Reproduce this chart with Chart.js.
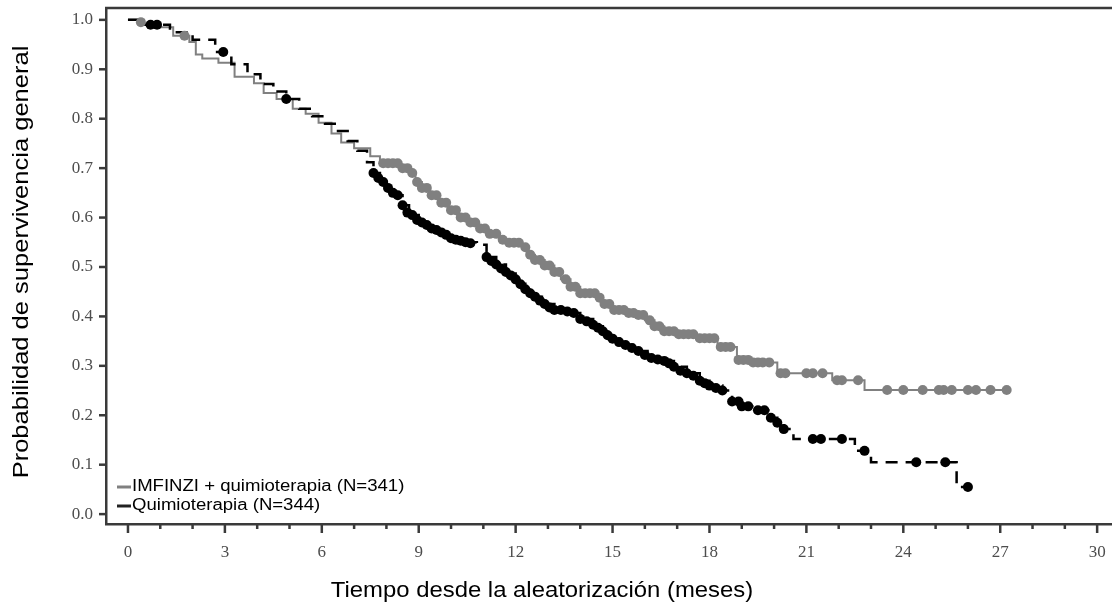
<!DOCTYPE html>
<html lang="es">
<head>
  <meta charset="UTF-8" />
  <title>Supervivencia general</title>
  <script src="https://cdn.jsdelivr.net/npm/chart.js"></script>
  <style>
    body { margin: 0; background: #fff; }
  </style>
</head>
<body>
  <canvas id="kmChart" width="1112" height="605"></canvas>

  <script>
    // tick labels
    const xTicks = [0, 3, 6, 9, 12, 15, 18, 21, 24, 27, 30];
    const yTicks = [0, 0.1, 0.2, 0.3, 0.4, 0.5, 0.6, 0.7, 0.8, 0.9, 1.0];

    const legendLabels = ['IMFINZI + quimioterapia (N=341)', 'Quimioterapia (N=344)'];
    const xTitle = 'Tiempo desde la aleatorización (meses)';
    const yTitle = 'Probabilidad de supervivencia general';

    // IMFINZI + quimioterapia: KM steps (months, survival)
    const imfTime = [0, 0.5, 1.0, 1.4, 1.9, 2.1, 2.3, 2.8, 3.3, 3.9, 4.2, 4.6, 5.1, 5.5, 5.9, 6.3, 6.6, 7.0, 7.5, 7.8,
      8.4, 8.7, 8.9, 9.1, 9.35, 9.6, 9.9, 10.2, 10.5, 10.8, 11.1, 11.5, 11.8, 12.2, 12.4, 12.6, 12.9, 13.2, 13.4, 13.7,
      14.0, 14.5, 14.7, 15.0, 15.4, 15.8, 16.0, 16.3, 16.6, 17.0, 17.6, 18.25, 18.85, 19.3, 20.1, 21.8, 22.8, 27.2];
    const imfSurv = [1.0, 0.99, 0.985, 0.968, 0.955, 0.93, 0.922, 0.913, 0.885, 0.872, 0.852, 0.84, 0.82, 0.81, 0.792, 0.77, 0.752, 0.74, 0.724, 0.71,
      0.70, 0.69, 0.672, 0.66, 0.645, 0.63, 0.615, 0.60, 0.59, 0.578, 0.567, 0.555, 0.549, 0.54, 0.525, 0.514, 0.503, 0.49, 0.475, 0.46,
      0.447, 0.438, 0.425, 0.413, 0.407, 0.403, 0.392, 0.38, 0.37, 0.364, 0.356, 0.338, 0.312, 0.307, 0.285, 0.271, 0.251, 0.251];

    // IMFINZI + quimioterapia: censored marks
    const imfCensTime = [0.4, 1.75, 7.9, 8.05, 8.2, 8.35, 8.5, 8.65, 8.8, 8.95, 9.1, 9.25, 9.4, 9.55, 9.7, 9.85, 10.0, 10.15, 10.3, 10.45,
      10.6, 10.75, 10.9, 11.05, 11.2, 11.4, 11.6, 11.8, 11.95, 12.1, 12.3, 12.45, 12.6, 12.75, 12.9, 13.05, 13.2, 13.35, 13.55, 13.7,
      13.85, 14.0, 14.15, 14.3, 14.45, 14.6, 14.75, 14.9, 15.05, 15.2, 15.35, 15.5, 15.65, 15.8, 15.95, 16.15, 16.3, 16.45, 16.6, 16.75,
      16.9, 17.05, 17.2, 17.35, 17.5, 17.7, 17.85, 18.0, 18.15, 18.35, 18.5, 18.65, 18.9, 19.05, 19.2, 19.35, 19.5, 19.65, 19.85, 20.2,
      20.35, 21.0, 21.2, 21.5, 21.95, 22.1, 22.6, 23.5, 24.0, 24.6, 25.1, 25.25, 25.5, 26.0, 26.25, 26.7, 27.2];
    const imfCensSurv = [0.995, 0.968, 0.71, 0.71, 0.71, 0.71, 0.70, 0.70, 0.69, 0.672, 0.66, 0.66, 0.645, 0.645, 0.63, 0.63, 0.615, 0.615, 0.60, 0.60,
      0.59, 0.59, 0.578, 0.578, 0.567, 0.567, 0.555, 0.549, 0.549, 0.549, 0.54, 0.525, 0.514, 0.514, 0.503, 0.503, 0.49, 0.49, 0.475, 0.46,
      0.46, 0.447, 0.447, 0.447, 0.447, 0.438, 0.425, 0.425, 0.413, 0.413, 0.413, 0.407, 0.407, 0.403, 0.403, 0.392, 0.38, 0.38, 0.37, 0.37,
      0.37, 0.364, 0.364, 0.364, 0.364, 0.356, 0.356, 0.356, 0.356, 0.338, 0.338, 0.338, 0.312, 0.312, 0.312, 0.307, 0.307, 0.307, 0.307, 0.285,
      0.285, 0.285, 0.285, 0.285, 0.271, 0.271, 0.271, 0.251, 0.251, 0.251, 0.251, 0.251, 0.251, 0.251, 0.251, 0.251, 0.251];

    // Quimioterapia: KM steps
    const chemoTime = [0, 0.4, 1.3, 2.0, 2.7, 3.2, 3.7, 4.1, 4.5, 4.9, 5.3, 5.7, 6.1, 6.4, 6.8, 7.1, 7.4, 7.6, 7.8, 8.0,
      8.3, 8.5, 8.7, 9.0, 9.3, 9.6, 10.0, 10.4, 10.8, 11.1, 11.4, 11.7, 12.0, 12.3, 12.6, 12.9, 13.2, 13.7, 14.0, 14.4,
      14.7, 15.0, 15.4, 15.8, 16.2, 16.6, 16.9, 17.3, 17.7, 18.0, 18.4, 18.7, 19.0, 19.5, 19.9, 20.1, 20.3, 20.6, 22.5, 23.0,
      25.65, 26.0];
    const chemoSurv = [1.0, 0.99, 0.975, 0.96, 0.935, 0.91, 0.89, 0.87, 0.855, 0.84, 0.82, 0.805, 0.79, 0.775, 0.755, 0.735, 0.712, 0.69, 0.672, 0.66,
      0.645, 0.625, 0.605, 0.59, 0.578, 0.57, 0.558, 0.55, 0.545, 0.52, 0.505, 0.49, 0.475, 0.455, 0.44, 0.425, 0.413, 0.407, 0.395, 0.383,
      0.37, 0.355, 0.342, 0.33, 0.316, 0.31, 0.298, 0.285, 0.27, 0.26, 0.25, 0.228, 0.218, 0.21, 0.195, 0.185, 0.172, 0.152, 0.128, 0.105,
      0.055, 0.055];

    // Quimioterapia: censored marks
    const chemoCensTime = [0.7, 0.9, 2.95, 4.9, 7.6, 7.75, 7.9, 8.05, 8.2, 8.35, 8.5, 8.65, 8.8, 8.95, 9.1, 9.25, 9.4, 9.55, 9.7, 9.85,
      10.0, 10.15, 10.3, 10.45, 10.6, 11.1, 11.25, 11.4, 11.55, 11.7, 11.85, 12.0, 12.15, 12.3, 12.45, 12.6, 12.75, 12.9, 13.05, 13.2,
      13.4, 13.6, 13.8, 14.0, 14.2, 14.4, 14.55, 14.7, 14.85, 15.0, 15.2, 15.4, 15.6, 15.8, 16.0, 16.2, 16.4, 16.6, 16.75, 16.9,
      17.1, 17.3, 17.5, 17.7, 17.85, 18.0, 18.2, 18.4, 18.7, 18.9, 19.0, 19.2, 19.5, 19.7, 19.9, 20.1, 20.3,
      21.2, 21.45, 22.1, 22.8, 24.4, 25.3, 26.0];
    const chemoCensSurv = [0.99, 0.99, 0.935, 0.84, 0.69, 0.68, 0.672, 0.66, 0.65, 0.645, 0.625, 0.61, 0.605, 0.595, 0.59, 0.585, 0.578, 0.575, 0.57, 0.565,
      0.558, 0.555, 0.553, 0.55, 0.548, 0.52, 0.512, 0.505, 0.497, 0.49, 0.483, 0.475, 0.465, 0.455, 0.447, 0.44, 0.432, 0.425, 0.418, 0.413,
      0.413, 0.41, 0.407, 0.395, 0.39, 0.383, 0.377, 0.37, 0.362, 0.355, 0.348, 0.342, 0.336, 0.33, 0.322, 0.316, 0.313, 0.31, 0.305, 0.298,
      0.29, 0.285, 0.28, 0.27, 0.265, 0.26, 0.255, 0.25, 0.228, 0.228, 0.218, 0.218, 0.21, 0.21, 0.195, 0.185, 0.172,
      0.152, 0.152, 0.152, 0.128, 0.105, 0.105, 0.055];

    const GRAY = '#808080';
    const BLACK = '#000000';
    const AXIS = '#3a3a3a';
    const sansFont = "'Liberation Sans', Arial, sans-serif";

    const pts = (xs, ys) => xs.map((x, i) => ({ x: x, y: ys[i] }));

    // no extra padding from tick labels; plot box is fixed
    function noPad(s) {
      s.paddingLeft = 0; s.paddingRight = 0; s.paddingTop = 0; s.paddingBottom = 0;
    }

    // axis frame, minor ticks, titles and legend
    const framePlugin = {
      id: 'frame',
      afterDraw(chart) {
        const { ctx, chartArea: a, scales } = chart;
        const xs = scales.x, ys = scales.y;
        ctx.save();
        ctx.strokeStyle = AXIS;
        ctx.lineWidth = 2.5;
        ctx.beginPath();
        ctx.moveTo(a.left - 1, a.top);
        ctx.lineTo(chart.width, a.top);
        ctx.stroke();

        // y ticks
        yTicks.forEach(v => {
          const py = ys.getPixelForValue(v);
          ctx.beginPath();
          ctx.moveTo(a.left - 7, py);
          ctx.lineTo(a.left, py);
          ctx.stroke();
        });
        // x ticks (major every 3 months, minor every month)
        for (let m = 0; m <= 30; m++) {
          const px = xs.getPixelForValue(m);
          const len = m % 3 === 0 ? 9 : 5;
          ctx.beginPath();
          ctx.moveTo(px, a.bottom);
          ctx.lineTo(px, a.bottom + len);
          ctx.stroke();
        }

        // axis titles
        ctx.fillStyle = '#000';
        ctx.font = '22px ' + sansFont;
        ctx.textAlign = 'center';
        ctx.textBaseline = 'middle';
        ctx.save();
        ctx.translate(542, 591);
        ctx.scale(1.085, 1);
        ctx.fillText(xTitle, 0, 0);
        ctx.restore();

        ctx.save();
        ctx.translate(22, 262);
        ctx.rotate(-Math.PI / 2);
        ctx.scale(1.16, 1);
        ctx.fillText(yTitle, 0, 0);
        ctx.restore();

        // legend
        const colors = [GRAY, '#222'];
        ctx.font = '16px ' + sansFont;
        ctx.textAlign = 'left';
        legendLabels.forEach((lab, i) => {
          const cy = 487 + i * 19;
          ctx.strokeStyle = colors[i];
          ctx.lineWidth = 3;
          ctx.beginPath();
          ctx.moveTo(117, cy);
          ctx.lineTo(131, cy);
          ctx.stroke();
          ctx.save();
          ctx.translate(132, cy);
          ctx.scale(1.16, 1);
          ctx.fillStyle = '#000';
          ctx.fillText(lab, 0, 0);
          ctx.restore();
        });
        ctx.restore();
      }
    };

    new Chart(document.getElementById('kmChart'), {
      type: 'line',
      data: {
        datasets: [
          { label: legendLabels[0], data: pts(imfTime, imfSurv), stepped: 'before', borderColor: GRAY, borderWidth: 2, pointRadius: 0, fill: false, order: 3 },
          { label: legendLabels[1], data: pts(chemoTime, chemoSurv), stepped: 'before', borderColor: BLACK, borderWidth: 2.5, borderDash: [12, 8], pointRadius: 0, fill: false, order: 2 },
          { label: 'censor1', data: pts(imfCensTime, imfCensSurv), showLine: false, pointRadius: 5, pointBackgroundColor: GRAY, pointBorderWidth: 0, order: 1 },
          { label: 'censor2', data: pts(chemoCensTime, chemoCensSurv), showLine: false, pointRadius: 5, pointBackgroundColor: BLACK, pointBorderWidth: 0, order: 0 }
        ]
      },
      options: {
        responsive: false,
        animation: false,
        layout: { autoPadding: false, padding: { top: 8, right: 0, left: 0, bottom: 0 } },
        plugins: { legend: { display: false }, tooltip: { enabled: false } },
        scales: {
          x: {
            type: 'linear',
            min: -0.68,
            max: 30.46,
            afterFit(s) { s.height = 81; noPad(s); },
            afterBuildTicks(s) { s.ticks = xTicks.map(v => ({ value: v })); },
            grid: { display: false, drawTicks: false },
            border: { display: true, color: AXIS, width: 2.5 },
            ticks: {
              padding: 18,
              color: '#4d4d4d',
              font: { family: "'Liberation Serif', 'DejaVu Serif', serif", size: 17 },
              maxRotation: 0,
              autoSkip: false,
              callback: v => String(v)
            }
          },
          y: {
            type: 'linear',
            min: -0.02,
            max: 1.024,
            afterFit(s) { s.width = 106; noPad(s); },
            afterBuildTicks(s) { s.ticks = yTicks.map(v => ({ value: v })); },
            grid: { display: false, drawTicks: false },
            border: { display: true, color: AXIS, width: 2.5 },
            ticks: {
              padding: 13,
              color: '#4d4d4d',
              font: { family: "'Liberation Serif', 'DejaVu Serif', serif", size: 17 },
              autoSkip: false,
              callback: v => v.toFixed(1)
            }
          }
        }
      },
      plugins: [framePlugin]
    });
  </script>
</body>
</html>
